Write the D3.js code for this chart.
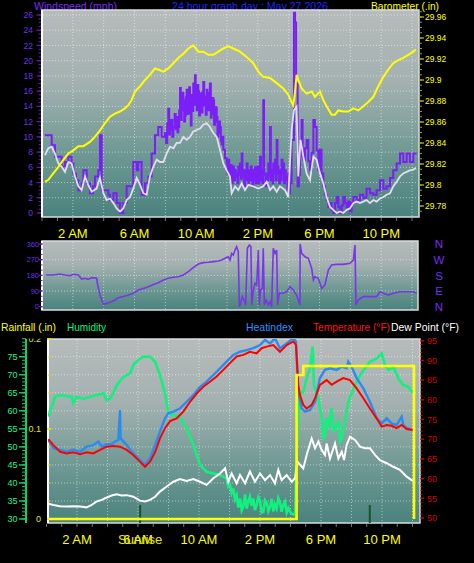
<!DOCTYPE html>
<html><head><meta charset="utf-8">
<script src="https://cdn.jsdelivr.net/npm/d3@7"></script>
<style>
html,body{margin:0;padding:0;background:#000;}
svg{display:block;font-family:"Liberation Sans",Arial,sans-serif;}
</style></head><body>
<svg id="chart" width="474" height="563"></svg>
<script>
// ---------- labels / ticks ----------
const titleText = "24 hour graph day : May 27 2026";
const timeLabels = ["2 AM","6 AM","10 AM","2 PM","6 PM","10 PM"];
const timeLabelHours = [2,6,10,14,18,22];
const windTicks = [0,2,4,6,8,10,12,14,16,18,20,22,24,26];
const baroTicks = [29.78,29.80,29.82,29.84,29.86,29.88,29.90,29.92,29.94,29.96];
const dirTicks = [0,90,180,270,360];
const dirLetters = ["N","W","S","E","N"];
const humTicks = [30,35,40,45,50,55,60,65,70,75];
const tempTicks = [50,55,60,65,70,75,80,85,90,95];
const rainTicks = [0,0.1,0.2];
const sunriseHour = 6.14;
const sunsetHour = 21.2;

// ---------- series [hour, value] ----------
const windGust = [[0.19,10.2],[0.52,10.2],[0.63,8.9],[0.84,7.4],[1.06,7.4],[1.27,6.1],[1.49,6.7],[1.71,7.4],[1.92,6.5],[2.03,5.2],[2.2,4.3],[2.36,3.0],[2.57,3.9],[2.68,5.6],[2.9,3.9],[3.11,2.6],[3.3,3.5],[3.44,4.8],[3.65,5.6],[3.76,10.2],[3.87,3.0],[4.09,3.0],[4.30,2.4],[4.41,1.7],[4.63,2.6],[4.84,1.3],[5.06,0.0],[5.27,1.3],[5.49,3.5],[5.71,3.5],[5.92,6.7],[6.14,5.6],[6.25,6.7],[6.46,2.4],[6.68,3.9],[6.90,4.8],[7.11,7.8],[7.33,10.2],[7.54,11.3],[7.76,10.0],
[7.98,10.5],[8.05,9.2],[8.12,11.8],[8.19,13.7],[8.25,10.3],[8.30,10.9],[8.38,12.2],[8.45,10.0],[8.52,11.3],[8.6,13.0],[8.67,11.0],[8.73,12.6],[8.79,10.6],[8.84,11.3],[8.90,13.5],[8.95,16.4],[9.0,12.2],[9.06,13.5],[9.12,15.8],[9.17,14.8],[9.22,12.0],[9.28,12.8],[9.33,15.2],[9.38,16.2],[9.44,13.0],[9.49,14.0],[9.55,16.5],[9.60,13.1],[9.65,11.5],[9.70,15.5],[9.76,13.4],[9.81,17.0],[9.87,14.2],[9.92,18.1],[9.97,15.0],[10.03,13.5],[10.08,16.8],[10.14,16.0],[10.19,12.8],[10.25,15.7],[10.30,14.0],[10.36,13.2],[10.41,15.9],[10.46,17.2],[10.52,14.1],[10.57,15.3],[10.62,12.9],[10.68,16.2],[10.73,14.6],[10.79,13.5],[10.84,15.8],[10.89,17.0],[10.95,12.5],[11.0,13.0],[11.06,15.1],[11.11,14.8],[11.16,11.6],[11.22,12.0],[11.27,13.9],[11.33,12.6],[11.38,10.0],[11.44,10.5],[11.49,12.0],[11.54,11.3],[11.6,9.5],[11.65,9.0],[11.7,10.0],[11.76,8.3],
[11.87,7.2],[11.98,6.5],[12.03,5.2],[12.08,7.0],[12.14,5.5],[12.19,4.8],[12.25,6.3],[12.3,3.9],[12.36,5.2],[12.41,6.1],[12.47,4.3],[12.52,5.6],[12.57,4.8],[12.62,5.2],[12.68,3.9],[12.73,6.1],[12.79,5.0],[12.84,6.5],[12.9,4.5],[12.95,7.8],[13.0,5.6],[13.06,4.8],[13.11,3.5],[13.16,5.6],[13.22,4.3],[13.27,6.5],[13.33,5.2],[13.38,3.9],[13.44,5.6],[13.49,4.3],[13.54,6.1],[13.6,4.8],[13.65,3.5],[13.70,5.6],[13.76,4.3],[13.81,6.0],[13.87,3.9],[13.92,4.8],[13.98,6.1],[14.03,3.9],[14.09,5.2],[14.14,7.4],[14.2,4.3],[14.25,5.6],[14.3,3.9],[14.35,14.8],[14.40,5.0],[14.46,5.2],[14.51,3.5],[14.57,5.2],[14.62,4.3],[14.68,6.5],[14.73,4.8],[14.79,11.3],[14.84,4.3],[14.89,5.6],[14.95,3.9],[15.00,6.5],[15.06,5.2],[15.11,7.0],[15.16,4.3],[15.22,9.6],[15.27,6.1],[15.33,5.2],[15.38,3.9],[15.43,5.6],[15.49,4.3],[15.54,7.0],[15.60,5.2],[15.65,6.5],[15.7,3.9],[15.76,5.6],[15.81,4.3],[15.87,4.8],[15.92,3.0],[15.97,5.2],[16.03,2.6],[16.08,3.9],
[16.19,9.6],[16.34,26.3],[16.41,25.0],[16.48,17.0],[16.58,3.5],[16.66,5.0],[16.73,7.4],[16.79,9.0],[16.84,12.2],[16.90,8.1],[16.95,7.0],[17.05,8.5],[17.16,9.6],[17.27,6.8],[17.38,5.6],[17.49,7.9],[17.60,12.2],[17.70,11.3],[17.81,8.2],[17.92,5.6],[18.03,8.3],[18.13,5.2],[18.24,3.5],[18.35,2.4],[18.46,1.7],[18.57,0.8],[18.68,1.3],[18.78,0.4],[18.89,0.0],[19.0,1.3],[19.11,2.1],[19.22,0.8],[19.33,0.0],[19.44,1.0],[19.54,2.1],[19.65,1.3],[19.76,0.8],[19.87,1.5],[19.97,0.2],[20.08,1.3],[20.19,2.1],[20.41,1.7],[20.62,2.4],[20.84,2.0],[21.05,3.2],[21.27,2.6],[21.49,2.4],[21.70,3.0],[21.92,4.3],[22.14,3.2],[22.35,3.5],[22.57,4.6],[22.78,5.6],[23.0,6.5],[23.22,7.8],[23.43,6.7],[23.65,7.8],[23.86,6.7],[24.08,7.8],[24.3,7.8]];

const windAvg = [[0.19,7.6],[0.41,8.5],[0.63,8.7],[0.84,7.8],[1.06,6.5],[1.27,6.1],[1.49,5.4],[1.71,6.7],[1.92,6.5],[2.14,4.8],[2.36,3.5],[2.57,3.0],[2.79,4.8],[3.00,3.7],[3.22,2.8],[3.54,3.2],[3.76,4.6],[3.98,2.6],[4.19,1.7],[4.41,1.9],[4.63,1.3],[4.84,0.6],[5.06,0.2],[5.27,0.6],[5.49,1.7],[5.71,2.1],[5.92,3.2],[6.14,4.6],[6.36,3.7],[6.57,2.6],[6.79,2.4],[7.00,4.8],[7.22,6.1],[7.44,7.0],[7.65,6.7],[7.87,6.7],[8.08,7.8],[8.30,8.7],[8.52,8.5],[8.73,9.2],[8.95,9.2],[9.17,10.0],[9.38,9.6],[9.60,10.0],[9.81,10.7],[10.03,10.9],[10.25,11.1],[10.46,11.6],[10.68,11.8],[10.89,11.3],[11.11,10.5],[11.33,10.0],[11.54,8.3],[11.76,6.5],[11.98,5.6],[12.19,4.8],[12.30,2.6],[12.52,3.5],[12.73,3.0],[12.95,3.9],[13.16,3.0],[13.38,3.7],[13.70,3.5],[14.03,3.2],[14.35,3.5],[14.57,4.1],[14.79,3.0],[15.00,3.5],[15.22,2.8],[15.43,3.5],[15.76,3.0],[15.97,2.1],[16.19,10.9],[16.34,13.5],[16.51,13.96],[16.62,4.8],[16.77,9.6],[16.95,7.4],[17.16,5.2],[17.38,4.3],[17.60,7.4],[17.81,7.0],[18.03,5.2],[18.24,3.9],[18.46,2.1],[18.68,0.8],[18.89,0.4],[19.11,0.0],[19.33,0.2],[19.54,0.0],[19.76,0.4],[19.97,0.6],[20.19,1.3],[20.41,1.5],[20.62,1.3],[20.84,1.5],[21.05,1.7],[21.27,1.3],[21.49,1.7],[21.70,1.5],[21.92,1.9],[22.14,2.1],[22.35,2.4],[22.57,2.6],[22.78,3.5],[23.00,4.1],[23.22,4.8],[23.43,5.2],[23.65,5.4],[23.86,5.6],[24.08,5.7],[24.25,5.9]];

const barometer = [[0.19,29.803],[0.41,29.805],[0.73,29.811],[1.06,29.817],[1.38,29.824],[1.71,29.830],[2.03,29.833],[2.36,29.837],[2.68,29.837],[3.11,29.841],[3.44,29.846],[3.76,29.852],[4.09,29.859],[4.41,29.865],[4.73,29.868],[5.06,29.870],[5.38,29.873],[5.60,29.876],[5.81,29.881],[6.03,29.889],[6.36,29.894],[6.68,29.900],[7.00,29.905],[7.33,29.911],[7.54,29.910],[7.87,29.908],[8.19,29.911],[8.52,29.916],[8.84,29.921],[9.17,29.925],[9.49,29.930],[9.81,29.933],[10.14,29.927],[10.46,29.927],[10.79,29.924],[11.11,29.924],[11.44,29.927],[11.76,29.930],[12.08,29.932],[12.41,29.930],[12.84,29.927],[13.27,29.922],[13.70,29.916],[14.03,29.908],[14.35,29.903],[14.79,29.902],[15.22,29.897],[15.65,29.892],[15.97,29.886],[16.19,29.879],[16.30,29.876],[16.41,29.889],[16.51,29.905],[16.62,29.900],[16.84,29.892],[17.16,29.887],[17.49,29.889],[17.70,29.884],[18.03,29.889],[18.24,29.881],[18.46,29.875],[18.78,29.867],[19.00,29.867],[19.22,29.871],[19.54,29.870],[19.87,29.870],[20.19,29.873],[20.51,29.871],[20.84,29.875],[21.16,29.879],[21.49,29.884],[21.81,29.894],[22.14,29.903],[22.46,29.910],[22.78,29.916],[23.11,29.919],[23.43,29.921],[23.76,29.924],[24.08,29.927],[24.25,29.929]];

const windDir = [[0.26,182],[0.73,182],[1.17,188],[1.49,182],[1.82,178],[2.03,186],[2.36,182],[2.57,159],[2.79,163],[3.00,157],[3.22,167],[3.55,163],[3.59,134],[3.76,67],[3.98,14],[4.19,19],[4.52,29],[4.73,38],[4.95,52],[5.27,58],[5.60,67],[5.92,77],[6.25,96],[6.57,105],[6.90,115],[7.22,128],[7.54,138],[7.87,153],[8.19,163],[8.52,169],[8.84,172],[9.17,182],[9.49,201],[9.81,224],[10.14,245],[10.46,253],[10.79,255],[11.11,259],[11.44,262],[11.65,268],[11.87,278],[12.08,287],[12.19,268],[12.30,306],[12.41,297],[12.52,325],[12.62,345],[12.73,316],[12.80,0],[12.88,19],[12.99,58],[13.10,38],[13.21,10],[13.32,335],[13.45,354],[13.55,345],[13.60,10],[13.71,96],[13.81,134],[13.92,125],[14.03,325],[14.09,10],[14.18,96],[14.29,105],[14.35,335],[14.42,10],[14.53,38],[14.68,10],[14.79,29],[14.89,0],[15.00,335],[15.11,306],[15.22,325],[15.28,10],[15.39,77],[15.65,77],[15.87,86],[16.08,115],[16.30,96],[16.51,67],[16.73,10],[16.74,360],[16.84,306],[17.06,287],[17.27,278],[17.49,220],[17.60,153],[17.70,172],[17.92,163],[18.14,105],[18.35,125],[18.57,211],[18.78,239],[19.11,243],[19.54,243],[19.97,249],[20.19,268],[20.30,354],[20.36,10],[20.51,38],[20.84,58],[21.27,58],[21.70,58],[21.92,86],[22.14,77],[22.46,67],[22.78,77],[23.22,86],[23.65,86],[24.08,86],[24.30,77]];

const temperature = [[0.12,70.0],[0.45,68.5],[0.89,66.8],[1.32,66.4],[1.76,66.7],[2.20,66.2],[2.63,66.7],[3.07,66.4],[3.51,67.3],[3.95,68.1],[4.38,68.3],[4.82,68.1],[5.26,67.3],[5.69,66.0],[6.13,64.3],[6.46,63.0],[6.79,64.3],[7.13,66.8],[7.44,70.2],[7.77,72.8],[8.10,74.6],[8.54,75.3],[8.97,77.0],[9.41,79.5],[9.85,81.6],[10.28,83.3],[10.72,84.6],[11.16,85.9],[11.60,87.6],[12.03,89.3],[12.47,91.0],[12.91,91.4],[13.34,92.2],[13.78,91.8],[14.11,93.1],[14.44,93.5],[14.87,93.9],[15.31,92.2],[15.75,93.9],[16.19,94.8],[16.36,93.9],[16.51,83.8],[16.62,81.2],[16.84,78.7],[17.06,77.8],[17.39,78.7],[17.61,80.4],[17.93,83.8],[18.37,85.0],[18.70,83.8],[19.03,84.6],[19.46,85.5],[19.90,85.0],[20.34,82.9],[20.78,80.4],[21.21,77.8],[21.65,75.3],[21.98,73.2],[22.31,73.6],[22.63,73.4],[22.96,72.8],[23.29,73.6],[23.62,72.6],[24.05,72.3],[24.16,72.2]];

const heatIndex = [[0.12,69.8],[0.45,67.7],[0.89,67.3],[1.32,66.8],[1.76,67.4],[2.20,66.8],[2.63,68.1],[3.07,68.5],[3.40,69.4],[3.62,68.1],[3.95,68.7],[4.27,68.7],[4.49,69.4],[4.71,69.8],[4.82,77.4],[4.86,70.2],[5.26,68.5],[5.69,66.4],[6.13,64.7],[6.46,63.5],[6.79,65.1],[7.12,68.5],[7.44,71.9],[7.77,75.3],[7.99,76.6],[8.32,77.0],[8.75,77.8],[9.19,79.5],[9.63,81.2],[10.07,83.3],[10.50,84.6],[10.94,86.3],[11.38,88.0],[11.81,89.7],[12.25,91.4],[12.69,92.2],[13.13,92.6],[13.56,93.1],[14.00,93.9],[14.33,95.2],[14.66,94.3],[14.98,95.6],[15.31,93.1],[15.75,94.3],[16.19,95.6],[16.36,94.8],[16.51,82.1],[16.73,77.8],[16.95,77.0],[17.28,77.4],[17.61,79.5],[17.93,85.5],[18.26,87.6],[18.59,88.0],[19.03,87.6],[19.36,88.4],[19.68,88.0],[19.79,89.7],[20.01,88.4],[20.34,85.5],[20.78,82.9],[21.21,79.5],[21.65,75.3],[21.98,74.0],[22.31,75.3],[22.63,74.0],[22.96,73.6],[23.29,75.7],[23.40,73.6],[23.62,72.8],[24.05,72.3],[24.16,72.2]];

const humidity = [[0.12,58.4],[0.34,61.1],[0.56,63.9],[0.89,64.4],[1.32,64.1],[1.65,63.9],[1.76,62.1],[1.98,63.9],[2.42,63.3],[2.85,63.9],[3.29,64.4],[3.73,64.8],[3.95,63.0],[4.16,63.4],[4.38,64.8],[4.60,67.1],[5.04,69.4],[5.48,70.4],[5.69,72.7],[6.02,74.1],[6.35,75.0],[6.79,75.0],[7.12,73.6],[7.44,69.9],[7.77,64.8],[7.99,59.3],[8.32,58.8],[8.75,58.4],[9.19,55.1],[9.63,50.5],[10.07,45.0],[10.50,43.1],[10.94,42.6],[11.38,42.2],[11.81,41.3],[11.92,39.0],[12.03,39.5],[12.14,37.2],[12.25,38.5],[12.36,35.5],[12.47,36.6],[12.58,33.2],[12.69,35.7],[12.8,32.4],[12.91,33.5],[13.02,36.8],[13.13,32.9],[13.24,35.0],[13.34,36.2],[13.45,33.7],[13.56,35.7],[13.67,32.5],[13.78,33.9],[13.89,36.0],[14.00,35.0],[14.11,31.8],[14.22,32.0],[14.33,35.2],[14.44,34.5],[14.55,32.2],[14.66,33.4],[14.77,35.6],[14.87,32.1],[14.98,34.0],[15.09,32.9],[15.2,35.8],[15.31,34.6],[15.42,32.0],[15.53,33.9],[15.64,34.8],[15.75,31.8],[15.86,33.0],[15.97,32.0],[16.1,31.5],[16.30,31.1],[16.40,48.7],[16.58,64.4],[16.84,65.3],[17.06,69.0],[17.28,71.8],[17.45,77.8],[17.54,67.1],[17.83,63.4],[18.04,58.4],[18.15,52.0],[18.26,53.3],[18.37,58.0],[18.48,55.1],[18.70,60.7],[18.81,54.0],[18.92,55.1],[19.14,57.0],[19.25,51.5],[19.36,52.3],[19.57,57.0],[19.79,62.5],[20.01,64.8],[20.23,67.1],[20.56,69.9],[20.89,71.8],[21.21,73.6],[21.65,74.5],[21.98,75.9],[22.20,72.7],[22.42,71.3],[22.74,72.2],[23.07,69.0],[23.40,67.1],[23.73,66.7],[23.95,65.3],[24.16,65.3]];

const dewPoint = [[0.12,53.6],[0.45,53.3],[0.89,53.0],[1.32,52.9],[1.76,53.0],[2.20,52.9],[2.63,52.7],[2.96,53.3],[3.29,54.2],[3.62,54.6],[3.95,55.2],[4.27,55.7],[4.60,56.0],[4.93,55.7],[5.26,55.8],[5.69,55.4],[6.13,54.4],[6.46,54.2],[6.79,54.6],[7.12,55.4],[7.44,56.7],[7.88,58.0],[8.32,59.2],[8.75,59.9],[9.19,59.4],[9.63,59.9],[10.07,59.2],[10.50,58.4],[10.94,60.1],[11.38,61.3],[11.71,62.6],[11.92,59.2],[12.14,61.3],[12.47,58.8],[12.69,60.9],[13.02,58.8],[13.34,61.8],[13.67,59.2],[14.00,61.3],[14.33,59.6],[14.66,60.9],[14.98,58.8],[15.20,62.2],[15.42,59.6],[15.75,60.9],[16.08,59.2],[16.30,60.1],[16.45,64.3],[16.84,62.6],[17.06,66.0],[17.39,70.2],[17.61,67.7],[17.83,69.4],[18.04,67.3],[18.26,66.0],[18.37,68.9],[18.59,65.1],[18.92,68.9],[19.14,65.1],[19.36,66.8],[19.51,64.7],[19.68,68.5],[19.90,70.6],[20.23,69.8],[20.56,68.1],[20.89,67.7],[21.21,67.7],[21.54,66.0],[21.87,64.7],[22.31,63.9],[22.74,63.0],[23.18,62.2],[23.62,60.5],[23.95,59.6],[24.16,59.5]];

const rainfall = [[0.12,0],[16.4,0],[16.4,0.16],[16.84,0.16],[16.84,0.17],[24.1,0.17],[24.1,0]];

// ---------- scales ----------
const xTop = d3.scaleLinear().domain([0, 24.45]).range([42, 419]);
const xMid = d3.scaleLinear().domain([0, 24.45]).range([42, 419]);
const xBot = d3.scaleLinear().domain([0, 24.5]).range([46.5, 420.1]);
const yWind = d3.scaleLinear().domain([0, 26]).range([213, 15]);
const yBaro = d3.scaleLinear().domain([29.78, 29.96]).range([206, 17]);
const yDir = d3.scaleLinear().domain([0, 360]).range([306.7, 244]);
const yHum = d3.scaleLinear().domain([30, 75]).range([519, 356.7]);
const yTemp = d3.scaleLinear().domain([50, 95]).range([518, 340.7]);
const yRain = d3.scaleLinear().domain([0, 0.2]).range([519, 339]);

const svg = d3.select("#chart");
svg.append("rect").attr("width",474).attr("height",563).attr("fill","#000");
const defs = svg.append("defs");
const grad = defs.append("linearGradient").attr("id","bg").attr("x1",0).attr("y1",0).attr("x2",0).attr("y2",1);
grad.append("stop").attr("offset","0%").attr("stop-color","#b7bbbb");
grad.append("stop").attr("offset","35%").attr("stop-color","#a3b1b0");
grad.append("stop").attr("offset","70%").attr("stop-color","#6e9893");
grad.append("stop").attr("offset","100%").attr("stop-color","#4a827d");

function panel(x0,y0,x1,y1){
  svg.append("rect").attr("x",x0).attr("y",y0).attr("width",x1-x0).attr("height",y1-y0)
    .attr("fill","url(#bg)").attr("stroke","#d8dcdc").attr("stroke-width",1.5);
  svg.append("line").attr("x1",x0).attr("x2",x0).attr("y1",y0).attr("y2",y1)
    .attr("stroke","#ffffff").attr("stroke-width",2);
}
function grid(xs, x, ys, y, x0,x1,y0,y1){
  svg.append("g").selectAll("line").data(xs).join("line")
    .attr("x1",d=>x(d)).attr("x2",d=>x(d)).attr("y1",y0+1).attr("y2",y1-1)
    .attr("stroke","rgba(255,255,255,0.5)").attr("stroke-dasharray","1,2");
  svg.append("g").selectAll("line").data(ys).join("line")
    .attr("y1",d=>y(d)).attr("y2",d=>y(d)).attr("x1",x0+1).attr("x2",x1-1)
    .attr("stroke","rgba(255,255,255,0.5)").attr("stroke-dasharray","1,2");
}
function ticksV(scale, values, x1, x2, color, w){
  svg.append("g").selectAll("line").data(values).join("line")
    .attr("x1",x1).attr("x2",x2).attr("y1",d=>scale(d)).attr("y2",d=>scale(d))
    .attr("stroke",color).attr("stroke-width",w||1);
}
function labelsV(scale, values, x, anchor, color, size, fmt){
  svg.append("g").selectAll("text").data(values).join("text")
    .attr("x",x).attr("y",d=>scale(d)).attr("dy","0.36em")
    .attr("text-anchor",anchor).attr("fill",color).attr("font-size",size)
    .text(fmt || (d=>d));
}
function label(x,y,txt,color,len,anchor){
  const t = svg.append("text").attr("x",x).attr("y",y).attr("font-size",11).attr("fill",color).text(txt);
  if(anchor) t.attr("text-anchor",anchor);
  if(len) t.attr("textLength",len).attr("lengthAdjust","spacingAndGlyphs");
  return t;
}
const num = d=>String(+d.toFixed(3));
const hours2 = d3.range(2, 25, 2);
const hours1 = d3.range(0, 25, 1);

// ---------- titles ----------
label(34, 9.5, "Windspeed (mph)", "#7a2cf0", 83);
label(172, 9.5, titleText, "#2222ff", 156);
label(371, 9.5, "Barometer (.in)", "#ffff00", 68);

// ---------- TOP PANEL ----------
panel(42,10,419,217);
grid(hours2, xTop, windTicks.filter(d=>d>0), yWind, 42,419,10,217);
ticksV(yWind, d3.range(0,26.01,0.5), 38.5, 41, "#5a18b8", 1);
ticksV(yWind, windTicks, 36.5, 41, "#5a18b8", 1.3);
labelsV(yWind, windTicks, 33, "end", "#7030e6", 8.5);
ticksV(yBaro, d3.range(29.775,29.9651,0.005), 419.5, 422, "#9a9a10", 1);
ticksV(yBaro, baroTicks, 419.5, 424, "#b0b020", 1.3);
labelsV(yBaro, baroTicks, 425, "start", "#ffff00", 8.5, num);
svg.append("g").selectAll("line").data(hours1).join("line")
  .attr("x1",d=>xTop(d)).attr("x2",d=>xTop(d)).attr("y1",218).attr("y2",221)
  .attr("stroke","#777").attr("stroke-width",1);

const clipTop = defs.append("clipPath").attr("id","ct");
clipTop.append("rect").attr("x",42).attr("y",10).attr("width",377).attr("height",207);

svg.append("path").datum(windGust).attr("clip-path","url(#ct)")
  .attr("d", d3.line().x(d=>xTop(d[0])).y(d=>yWind(d[1])).curve(d3.curveStepAfter))
  .attr("fill","none").attr("stroke","#7a1ff5").attr("stroke-width",2);
svg.append("path").datum(windAvg).attr("clip-path","url(#ct)")
  .attr("d", d3.line().x(d=>xTop(d[0])).y(d=>yWind(d[1])))
  .attr("fill","none").attr("stroke","#e2dcf4").attr("stroke-width",1.8);
svg.append("path").datum(barometer).attr("clip-path","url(#ct)")
  .attr("d", d3.line().x(d=>xTop(d[0])).y(d=>yBaro(d[1])))
  .attr("fill","none").attr("stroke","#ffff00").attr("stroke-width",2);

// time labels (top)
svg.append("g").selectAll("text").data(timeLabelHours).join("text")
  .attr("x",d=>xTop(d)).attr("y",237.5).attr("text-anchor","middle")
  .attr("font-size",13).attr("fill","#ffff00").text((d,i)=>timeLabels[i]);

// ---------- MIDDLE PANEL ----------
panel(42,241,418,310);
grid(hours2, xMid, [90,180,270], yDir, 42,418,241,310);
ticksV(yDir, d3.range(0,361,30), 40.5, 42.5, "#5a18b8", 1);
ticksV(yDir, dirTicks, 39, 42.5, "#5a18b8", 1.3);
labelsV(yDir, dirTicks, 39, "end", "#7030e6", 7.5);
svg.append("g").selectAll("text").data(dirTicks).join("text")
  .attr("x",439).attr("y",d=>yDir(d)).attr("dy","0.38em").attr("text-anchor","middle")
  .attr("font-size",11.5).attr("fill","#7a2cf0").text((d,i)=>dirLetters[dirLetters.length-1-i]);
const clipMid = defs.append("clipPath").attr("id","cm");
clipMid.append("rect").attr("x",42).attr("y",241).attr("width",376).attr("height",69);
svg.append("path").datum(windDir).attr("clip-path","url(#cm)")
  .attr("d", d3.line().x(d=>xMid(d[0])).y(d=>yDir(d[1])))
  .attr("fill","none").attr("stroke","#7b35e8").attr("stroke-width",1.6);

// ---------- BOTTOM PANEL ----------
label(1, 331, "Rainfall (.in)", "#ffff00", 55);
label(67, 331, "Humidity", "#10f080", 39);
label(246, 331, "Heatindex", "#2890ff", 47);
label(313, 331, "Temperature (°F)", "#ff1010", 77);
label(391, 331, "Dew Point (°F)", "#ffffff", 68);

panel(48,339,420,523);
grid(hours2, xBot, humTicks.filter(d=>d>30), yHum, 48,420,339,523);

// humidity axis
svg.append("line").attr("x1",26).attr("x2",26).attr("y1",339).attr("y2",523).attr("stroke","#10d070").attr("stroke-width",2);
ticksV(yHum, d3.range(30,80.01,1), 22, 26, "#10c068", 1);
ticksV(yHum, humTicks, 19, 26, "#10d070", 1.4);
labelsV(yHum, humTicks, 17.5, "end", "#20f088", 9);
// rain axis
const clipRainLbl = defs.append("clipPath").attr("id","crl");
clipRainLbl.append("rect").attr("x",0).attr("y",338.5).attr("width",60).attr("height",200);
svg.append("g").attr("clip-path","url(#crl)").selectAll("text").data(rainTicks).join("text")
  .attr("x",41).attr("y",d=>yRain(d)).attr("dy","0.36em").attr("text-anchor","end")
  .attr("fill","#e8e800").attr("font-size",9).text(num);
ticksV(yRain, d3.range(0,0.201,0.02), 48, 50.5, "#d8d800", 1);
ticksV(yRain, rainTicks, 47, 51, "#e8e800", 1.5);
// temperature axis
ticksV(yTemp, d3.range(50,95.01,1), 420.5, 422.5, "#c00000", 1);
ticksV(yTemp, tempTicks, 420.5, 424, "#d00000", 1.4);
labelsV(yTemp, tempTicks, 427, "start", "#d00000", 9);

// time ticks bottom
svg.append("g").selectAll("line").data(hours1).join("line")
  .attr("x1",d=>xBot(d)).attr("x2",d=>xBot(d)).attr("y1",524).attr("y2",527)
  .attr("stroke","#777").attr("stroke-width",1);

const clipBot = defs.append("clipPath").attr("id","cb");
clipBot.append("rect").attr("x",48).attr("y",339).attr("width",372).attr("height",184);
const gB = svg.append("g").attr("clip-path","url(#cb)");

// sunrise / sunset markers
gB.selectAll("line.sun").data([sunriseHour, sunsetHour]).join("line")
  .attr("x1",d=>xBot(d)).attr("x2",d=>xBot(d)).attr("y1",505).attr("y2",523)
  .attr("stroke","#1f4f30").attr("stroke-width",2);

const lineB = (y)=>d3.line().x(d=>xBot(d[0])).y(d=>y(d[1]));
gB.append("path").datum(humidity).attr("d", lineB(yHum)).attr("fill","none").attr("stroke","#12f07e").attr("stroke-width",2.6);
gB.append("path").datum(heatIndex).attr("d", lineB(yTemp)).attr("fill","none").attr("stroke","#2a8cf0").attr("stroke-width",2.4);
gB.append("path").datum(temperature).attr("d", lineB(yTemp)).attr("fill","none").attr("stroke","#ff0000").attr("stroke-width",2);
gB.append("path").datum(dewPoint).attr("d", lineB(yTemp)).attr("fill","none").attr("stroke","#ffffff").attr("stroke-width",2);
gB.append("path").datum(rainfall).attr("d", lineB(yRain)).attr("fill","none").attr("stroke","#ffff00").attr("stroke-width",2.6);

// time labels (bottom)
svg.append("g").selectAll("text").data(timeLabelHours).join("text")
  .attr("x",d=>xBot(d)).attr("y",543.5).attr("text-anchor","middle")
  .attr("font-size",13).attr("fill","#ffff00").text((d,i)=>timeLabels[i]);
svg.append("text").attr("x",xBot(sunriseHour)).attr("y",543.5).attr("text-anchor","middle")
  .attr("font-size",13).attr("fill","#e6e600").text("Sunrise");
</script>
</body></html>
